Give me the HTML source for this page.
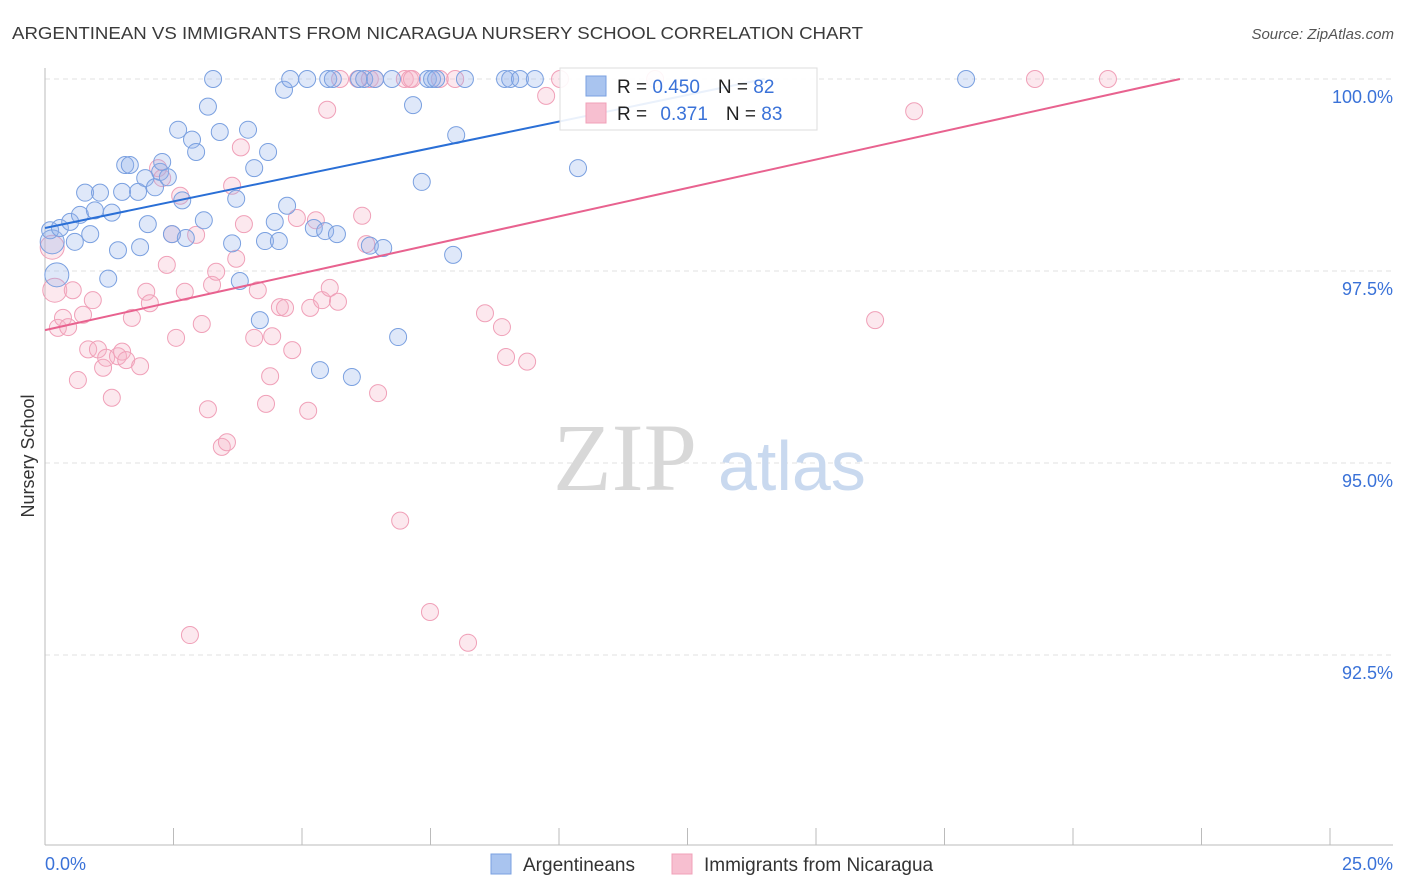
<!DOCTYPE html>
<html><head><meta charset="utf-8"><style>
body{margin:0;background:#fff;font-family:"Liberation Sans",sans-serif;}
svg{display:block}
</style></head><body>
<svg id="chart" width="1406" height="892">
<text x="12" y="39" font-size="17.5" fill="#3a3a3a" textLength="851" lengthAdjust="spacingAndGlyphs">ARGENTINEAN VS IMMIGRANTS FROM NICARAGUA NURSERY SCHOOL CORRELATION CHART</text>
<text x="1394" y="39" font-size="15" fill="#555" font-style="italic" text-anchor="end">Source: ZipAtlas.com</text>
<g id="grid"></g>
<g>
<text x="553" y="490" font-family="Liberation Serif,serif" font-size="96" fill="#d8d8d8">ZIP</text>
<text x="718" y="490" font-size="70" fill="#c9d9ef">atlas</text>
</g>
<text transform="translate(34,456) rotate(-90)" font-size="18" fill="#333" text-anchor="middle">Nursery School</text>
<g id="axes"></g>
<g id="points"></g>
<g id="lines"></g>
<g>
<rect x="560" y="68" width="257" height="62" fill="#fff" fill-opacity="0.9" stroke="#ddd"/>
<rect x="586" y="76" width="20" height="20" fill="#a9c4ef" stroke="#7aa0e0"/>
<rect x="586" y="103" width="20" height="20" fill="#f7bfd0" stroke="#f0a0b8"/>
<text x="617" y="93" font-size="19" fill="#222">R = <tspan fill="#3a72d8">0.450</tspan><tspan dx="18">N = </tspan><tspan fill="#3a72d8">82</tspan></text>
<text x="617" y="120" font-size="19" fill="#222">R = <tspan fill="#3a72d8" dx="8">0.371</tspan><tspan dx="18">N = </tspan><tspan fill="#3a72d8">83</tspan></text>
</g>
<g>
<rect x="491" y="854" width="20" height="20" fill="#a9c4ef" stroke="#7aa0e0"/>
<text x="523" y="871" font-size="19" fill="#333">Argentineans</text>
<rect x="672" y="854" width="20" height="20" fill="#f7bfd0" stroke="#f0a0b8"/>
<text x="704" y="871" font-size="19" fill="#333">Immigrants from Nicaragua</text>
</g>
</svg>
<script>
const yTicks=[92.5,95.0,97.5,100.0];
const xTickLabels=["0.0%","25.0%"];
const blueX=[0.14,0.23,0.10,0.29,0.49,0.68,0.88,0.58,0.97,0.78,1.07,1.30,1.42,1.23,1.56,1.65,1.50,1.81,1.85,2.00,1.95,2.14,2.24,2.28,2.39,2.47,2.59,2.67,2.74,2.86,2.94,3.09,3.17,3.27,3.40,3.64,3.72,3.79,3.95,4.07,4.18,4.28,4.34,4.47,4.55,4.65,4.71,4.77,5.10,5.23,5.35,5.45,5.51,5.60,5.68,5.97,6.11,6.21,6.32,6.42,6.58,6.75,6.87,7.16,7.33,7.45,7.53,7.61,7.94,8.00,8.17,8.95,9.05,9.24,9.53,10.37,17.92];
const blueY=[97.88,97.45,98.03,98.06,98.14,98.23,97.98,97.88,98.29,98.52,98.52,98.26,97.77,97.40,98.88,98.88,98.53,98.53,97.81,98.11,98.71,98.59,98.79,98.92,98.72,97.98,99.34,98.42,97.93,99.21,99.05,98.16,99.64,100,99.31,97.86,98.44,97.37,99.34,98.84,96.86,97.89,99.05,98.14,97.89,99.86,98.35,100,100,98.06,96.21,98.02,100,100,97.98,96.12,100,100,97.83,100,97.80,100,96.64,99.66,98.66,100,100,100,97.71,99.27,100,100,100,100,100,98.84,100];
const pinkX=[0.14,0.19,0.25,0.35,0.45,0.54,0.64,0.74,0.84,0.93,1.03,1.13,1.19,1.30,1.42,1.50,1.58,1.69,1.85,1.97,2.04,2.20,2.28,2.37,2.47,2.55,2.63,2.72,2.82,2.94,3.05,3.17,3.25,3.33,3.44,3.54,3.64,3.72,3.81,3.87,4.07,4.14,4.30,4.38,4.42,4.57,4.67,4.81,4.90,5.12,5.16,5.27,5.39,5.54,5.70,5.49,5.74,6.09,6.17,6.25,6.32,6.42,6.48,6.91,7.00,7.10,7.14,7.49,7.68,7.98,8.23,8.56,8.89,8.97,9.38,9.75,10.02,11.87,16.15,16.91,19.26,20.68];
const pinkY=[97.81,97.25,96.76,96.89,96.77,97.25,96.08,96.93,96.48,97.12,96.48,96.24,96.37,95.85,96.39,96.45,96.34,96.89,96.26,97.23,97.08,98.84,98.71,97.58,97.98,96.63,98.48,97.23,92.76,97.97,96.81,95.70,97.32,97.49,95.21,95.27,98.61,97.66,99.11,98.11,96.63,97.25,95.77,96.13,96.65,97.03,97.02,96.47,98.19,95.68,97.02,98.16,97.12,97.28,97.10,99.60,100,100,98.22,97.85,100,100,95.91,94.25,100,100,100,93.06,100,100,92.66,96.95,96.77,96.38,96.32,99.78,100,100,96.86,99.58,100,100];
const blueTrendX=[0,14.0];
const blueTrendY=[98.06,100];
const pinkTrendX=[0,22.08];
const pinkTrendY=[96.73,100];

const NS="http://www.w3.org/2000/svg";
const L=45,R=1330,T=79;
function sx(v){return L+v/25*(R-L);}
function sy(v){return T+(100-v)/2.5*192;}
function mk(tag,attrs,parent){const e=document.createElementNS(NS,tag);for(const k in attrs)e.setAttribute(k,attrs[k]);parent.appendChild(e);return e;}
const grid=document.getElementById('grid'),axes=document.getElementById('axes'),pts=document.getElementById('points'),lines=document.getElementById('lines');
yTicks.forEach(t=>{
  const g=mk('line',{x1:L,x2:1393,y1:sy(t),y2:sy(t),stroke:'#e2e2e2','stroke-dasharray':'5,4'},grid);
  
  
  const tx=mk('text',{x:1393,y:sy(t)+24,'font-size':18,fill:'#3a72d8','text-anchor':'end'},axes);
  tx.textContent=t.toFixed(1)+'%';
  
  
});
mk('line',{x1:L,x2:L,y1:68,y2:845,stroke:'#bbb'},axes);
mk('line',{x1:L,x2:1393,y1:845,y2:845,stroke:'#bbb'},axes);
for(let i=0;i<=10;i++){const x=sx(i*2.5);mk('line',{x1:x,x2:x,y1:828,y2:845,stroke:'#bbb'},axes);}
const xl0=mk('text',{x:45,y:870,'font-size':18,fill:'#3a72d8'},axes);xl0.textContent=xTickLabels[0];


const xl1=mk('text',{x:1393,y:870,'font-size':18,fill:'#3a72d8','text-anchor':'end'},axes);xl1.textContent=xTickLabels[1];


function drawPts(X,Y,fill,stroke,name){
  X.forEach((x,i)=>{
    const r=(i<2)?12:8.5;
    const c=mk('circle',{cx:sx(x),cy:sy(Y[i]),r:r,fill:fill,stroke:stroke,'stroke-width':1},pts);
    
    
  });
}
drawPts(pinkX,pinkY,'rgba(246,180,200,0.3)','#f0a0b8','point-nicaragua');
drawPts(blueX,blueY,'rgba(150,180,235,0.3)','#7aa0e0','point-argentineans');
const bl=mk('line',{x1:sx(blueTrendX[0]),y1:sy(blueTrendY[0]),x2:sx(blueTrendX[1]),y2:sy(blueTrendY[1]),stroke:'#2a6fd6','stroke-width':2},lines);


const pl=mk('line',{x1:sx(pinkTrendX[0]),y1:sy(pinkTrendY[0]),x2:sx(pinkTrendX[1]),y2:sy(pinkTrendY[1]),stroke:'#e8628f','stroke-width':2},lines);


</script>
</body></html>
